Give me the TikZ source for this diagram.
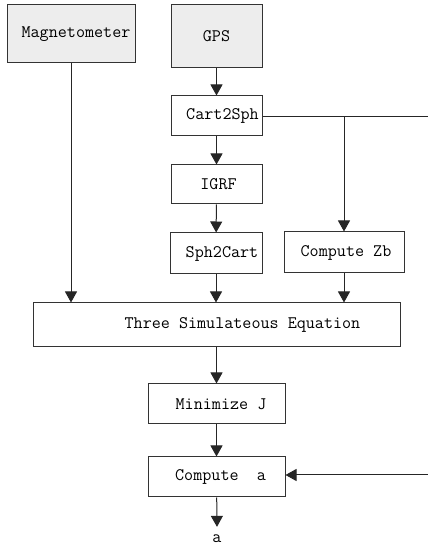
\documentclass[tikz,border=0pt]{standalone}
\usetikzlibrary{arrows.meta,calc}

\begin{document}
\begin{tikzpicture}[
    x=1pt, y=1pt,
    font=\ttfamily\fontsize{17.6}{20}\selectfont,
    procbox/.style={draw=black!80, line width=1pt, inner sep=0pt, align=center},
    srcbox/.style={procbox, fill=black!7},
    arrow/.style={-{Triangle[length=11pt,width=12pt]}, line width=1pt, draw=black!85},
    wire/.style={line width=1pt, draw=black!85}
]
    \useasboundingbox (0,0) rectangle (428,547);

    % Sensoren
    \node[srcbox, minimum width=128, minimum height=58] (mag) at (71, 513) {\hspace*{10pt}Magnetometer};
    \node[srcbox, minimum width=91, minimum height=63] (gps) at (216.5, 510.5) {GPS};

    % Koordinatentransformationen
    \node[procbox, minimum width=91, minimum height=40] (cart) at (216.5, 431) {\hspace*{12pt}Cart2Sph};
    \node[procbox, minimum width=91, minimum height=39] (igrf) at (216.5, 362.5) {\hspace*{4pt}IGRF};
    \node[procbox, minimum width=92, minimum height=41] (sph) at (216, 293.5) {\hspace*{12pt}Sph2Cart};
    \node[procbox, minimum width=120, minimum height=41] (zb) at (344, 294.5) {\hspace*{4pt}Compute Zb};

    % Gleichungssystem und Optimierung
    \node[procbox, minimum width=367, minimum height=44] (three) at (216.5, 222) {\hspace*{52pt}Three Simulateous Equation};
    \node[procbox, minimum width=137, minimum height=40] (minj) at (216.5, 143) {\hspace*{9pt}Minimize J};
    \node[procbox, minimum width=137, minimum height=40] (compa) at (216.5, 70) {\hspace*{8pt}Compute\ \ a};
    \node[inner sep=0pt] (out) at (217, 8) {a};

    % offene Enden am rechten Rand
    \coordinate (fbtop) at (428, 430);
    \coordinate (fbbot) at (428, 72);

    % Verbindungen
    \draw[arrow] (mag.south) -- (mag.south |- three.north);
    \draw[arrow] (gps) -- (cart);
    \draw[arrow] (cart) -- (igrf);
    \draw[arrow] (igrf) -- (sph);
    \draw[arrow] (sph) -- (three.north -| sph.south);
    \draw[wire] (cart.east |- fbtop) -- (fbtop);
    \draw[arrow] (fbtop -| zb.north) -- (zb.north);
    \draw[arrow] (zb) -- (three.north -| zb.south);
    \draw[arrow] (three.south -| minj.north) -- (minj);
    \draw[arrow] (minj) -- (compa);
    \draw[arrow] (fbbot) -- (compa.east |- fbbot);
    \draw[arrow] (compa) -- ([yshift=8pt]out.north);
\end{tikzpicture}
\end{document}
